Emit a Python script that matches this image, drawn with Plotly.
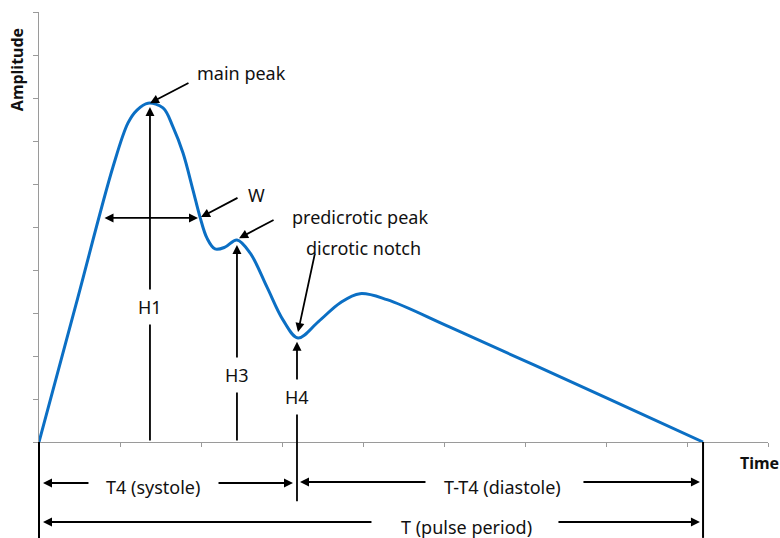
import plotly.graph_objects as go

# Pulse waveform (time units = x-axis tick steps, amplitude = y tick steps)
time = [0, 0.457, 0.914, 1.099, 1.21, 1.346, 1.531, 1.654, 1.778, 1.901, 1.988, 2.074, 2.173,
        2.296, 2.444, 2.605, 2.815, 3.012, 3.198, 3.45, 3.72, 3.963, 4.296, 5.074, 7.012, 8.198]
amplitude = [0, 3.20, 6.40, 7.42, 7.72, 7.88, 7.77, 7.33, 6.72, 5.86, 5.23, 4.74, 4.49,
             4.53, 4.70, 4.40, 3.60, 2.84, 2.42, 2.80, 3.24, 3.45, 3.31, 2.67, 1.02, 0]

x_ticks = list(range(0, 10))
y_ticks = list(range(0, 11))

FONT = "Noto Sans"
BLACK = "#000000"
AXIS = "#9a9a9a"

fig = go.Figure()
fig.add_trace(go.Scatter(x=time, y=amplitude, mode="lines",
                         line=dict(color="#0b6fc4", width=3, shape="spline", smoothing=1.0),
                         hoverinfo="skip", showlegend=False))

ann = []

def arrow(x, y, ax, ay, yref="y", side="end"):
    ann.append(dict(x=x, y=y, xref="x", yref=yref, ax=ax, ay=ay, axref="pixel", ayref="pixel",
                    text="", showarrow=True, arrowhead=2, arrowsize=1, arrowwidth=1.8,
                    arrowcolor=BLACK, arrowside=side, standoff=0, startstandoff=0))

def label(x, y, text, yref="y", size=18, bg=None, pad=1):
    d = dict(x=x, y=y, xref="x", yref=yref, text=text, showarrow=False,
             xanchor="center", yanchor="middle",
             font=dict(family=FONT, size=size, color="#111111"), borderpad=pad)
    if bg:
        d["bgcolor"] = bg
    ann.append(d)

# pointer arrows
arrow(1.37, 7.88, 40, -21)       # main peak
arrow(2.0, 5.23, 38, -20)        # W
arrow(2.47, 4.74, 36, -19)       # predicrotic peak
arrow(3.198, 2.56, 17, -79)      # dicrotic notch
# width double arrow
arrow(1.963, 5.21, -95, 0, side="end+start")
# height arrows
arrow(1.37, 7.79, 0, 335)        # H1
arrow(2.444, 4.58, 0, 197)       # H3
arrow(3.185, 2.33, 0, 161)       # H4

# time-span arrows below the axis
arrow(0.049, -0.0953, 47, 0, yref="paper")
arrow(3.136, -0.0953, -76, 0, yref="paper")
arrow(3.222, -0.093, 127, 0, yref="paper")
arrow(8.16, -0.093, -118, 0, yref="paper")
arrow(0.049, -0.186, 330, 0, yref="paper")
arrow(8.16, -0.186, -143, 0, yref="paper")

# labels
label(2.494, 8.58, "main peak")
label(2.691, 5.74, "W")
label(3.963, 5.23, "predicrotic peak")
label(4.012, 4.51, "dicrotic notch")
label(1.37, 3.14, "H1", bg="white", pad=5)
label(2.444, 1.56, "H3", bg="white", pad=5)
label(3.185, 1.05, "H4", bg="white", pad=5)
label(1.407, -0.1047, "T4 (systole)", yref="paper")
label(5.716, -0.1047, "T-T4 (diastole)", yref="paper")
label(5.272, -0.1977, "T (pulse period)", yref="paper")

ann.append(dict(x=-0.030, y=0.865, xref="paper", yref="paper", text="<b>Amplitude</b>",
                xanchor="center", yanchor="middle",
                textangle=-90, showarrow=False, font=dict(family=FONT, size=16, color="#111111")))
ann.append(dict(x=0.988, y=-0.049, xref="paper", yref="paper", text="<b>Time</b>",
                xanchor="center", yanchor="middle",
                showarrow=False, font=dict(family=FONT, size=16, color="#111111")))

shapes = [
    dict(type="line", xref="x domain", yref="paper", x0=0, x1=0, y0=0, y1=-0.223,
         line=dict(color=BLACK, width=2)),
    dict(type="line", xref="x", yref="paper", x0=time[-1], x1=time[-1], y0=0, y1=-0.223,
         line=dict(color=BLACK, width=2)),
]

fig.update_layout(
    width=780, height=538,
    margin=dict(l=39, r=12, t=12, b=96),
    paper_bgcolor="white", plot_bgcolor="white",
    annotations=ann, shapes=shapes,
    xaxis=dict(range=[0, 9], tickvals=x_ticks, showticklabels=False, showgrid=False,
               zeroline=False, showline=True, linecolor=AXIS, linewidth=1.3,
               ticks="outside", ticklen=4, tickcolor=AXIS, fixedrange=True),
    yaxis=dict(range=[0, 10], tickvals=y_ticks, showticklabels=False, showgrid=False,
               zeroline=False, showline=True, linecolor=AXIS, linewidth=1.3,
               ticks="outside", ticklen=5, tickcolor=AXIS, fixedrange=True),
)

fig.write_html("out.html", config={"displayModeBar": False},
               post_script="document.body.style.margin='0';document.body.style.padding='0';")
